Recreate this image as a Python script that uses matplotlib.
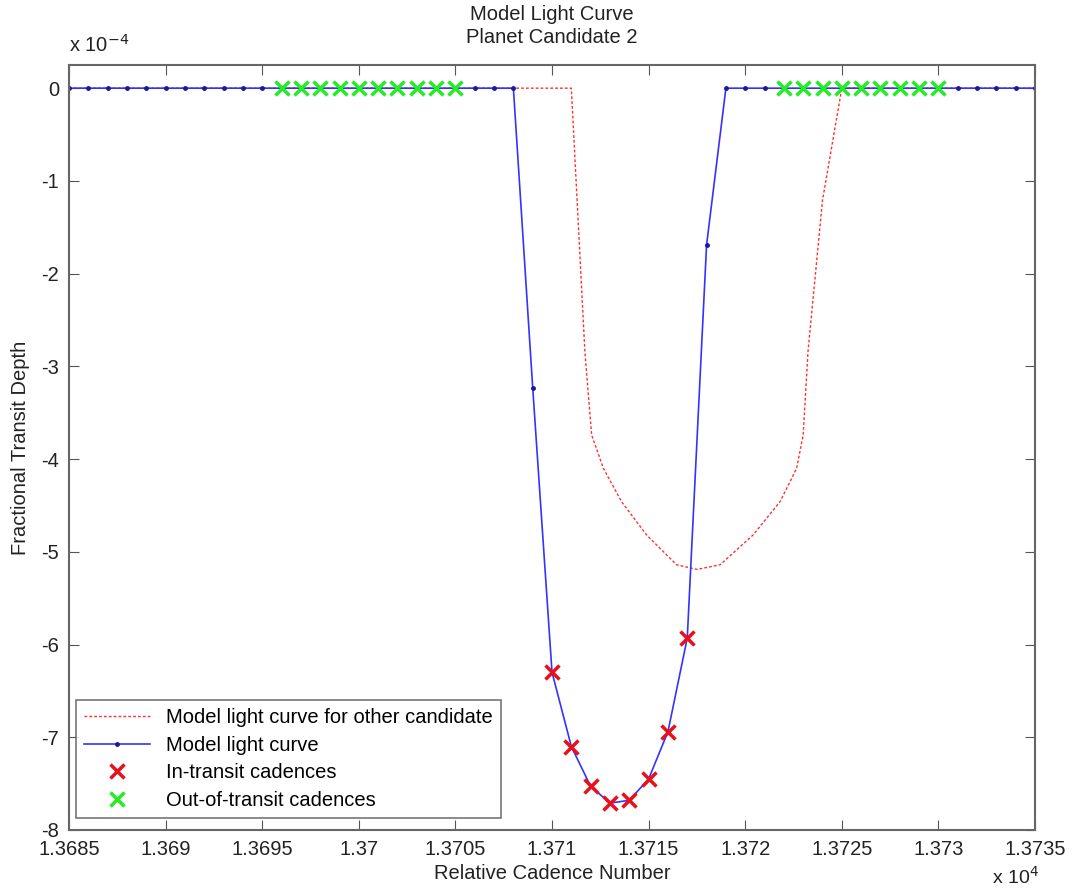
import numpy as np
import matplotlib
matplotlib.use('Agg')
from matplotlib import pyplot as plt
from matplotlib.ticker import FuncFormatter

# model light curve, one point per cadence (depth in units of 1e-4)
cadence = list(range(13685, 13736))
depth_dip = {13709: -3.23, 13710: -6.30, 13711: -7.10, 13712: -7.53, 13713: -7.71,
             13714: -7.68, 13715: -7.45, 13716: -6.94, 13717: -5.93, 13718: -1.69}
depth = [depth_dip.get(c, 0.0) for c in cadence]

# other candidate's model
other_x = [13685, 13711.0, 13711.7, 13712.05, 13712.66, 13713.6, 13714.9, 13716.45,
           13717.5, 13718.7, 13720.4, 13721.8, 13722.66, 13723.0, 13723.25, 13724.0,
           13725.0, 13735]
other_y = [0.0, 0.0, -2.84, -3.74, -4.10, -4.46, -4.82, -5.14,
           -5.19, -5.14, -4.82, -4.46, -4.10, -3.74, -2.84, -1.21,
           0.0, 0.0]

in_transit = [13710, 13711, 13712, 13713, 13714, 13715, 13716, 13717]
out_transit = list(range(13696, 13706)) + list(range(13722, 13731))

plt.rcParams['font.family'] = ['Liberation Sans', 'DejaVu Sans']
plt.rcParams['font.size'] = 14.5
plt.rcParams['axes.unicode_minus'] = False

fig = plt.figure(figsize=(10.72, 8.94), dpi=100)
ax = fig.add_axes([0.0644, 0.0716, 0.9011, 0.8557])

ax.plot(other_x, other_y, color='#ff3030', lw=1.0, ls=(0, (2, 1.5)),
        label='Model light curve for other candidate')
ax.plot(cadence, depth, color='#3333ff', lw=1.2, marker='.', ms=5,
        mfc='#1a1a99', mec='#1a1a99', label='Model light curve')
ax.plot(in_transit, [depth_dip[c] for c in in_transit], ls='none', marker='x',
        color='#e8101a', ms=10, mew=2.5, label='In-transit cadences')
ax.plot(out_transit, [0.0] * len(out_transit), ls='none', marker='x',
        color='#22ee22', ms=10, mew=2.5, label='Out-of-transit cadences')

ax.set_xlim(13685, 13735)
ax.set_ylim(-8, 0.25)
ax.set_xticks(np.arange(13685, 13736, 5))
ax.set_yticks(range(-8, 1))
ax.xaxis.set_major_formatter(FuncFormatter(lambda v, _: f'{v / 1e4:g}'))
ax.tick_params(direction='in', top=True, right=True, length=7, color='#555555',
               labelsize=14.5, labelcolor='#222222', pad=7)
for s in ax.spines.values():
    s.set_color('#666666')
    s.set_linewidth(1.5)

ax.set_xlabel('Relative Cadence Number', color='#222222', labelpad=4)
ax.set_ylabel('Fractional Transit Depth', color='#222222', labelpad=8)
ax.set_title('Model Light Curve\nPlanet Candidate 2', color='#222222',
             fontsize=14.5, pad=16, linespacing=1.25)
ax.text(0.0, 1.012, r'x 10$^{-4}$', transform=ax.transAxes, fontsize=14.5,
        color='#222222', va='bottom', ha='left')
ax.text(0.955, -0.047, r'x 10$^{4}$', transform=ax.transAxes, fontsize=14,
        color='#222222', va='top', ha='left')

leg = ax.legend(loc='lower left', bbox_to_anchor=(0.007, 0.016), borderaxespad=0,
                fontsize=14.5, frameon=True, fancybox=False, edgecolor='#555555',
                handlelength=3.3, labelspacing=0.42, borderpad=0.4)
leg.get_frame().set_linewidth(1.2)

fig.savefig('out.png', dpi=100)
